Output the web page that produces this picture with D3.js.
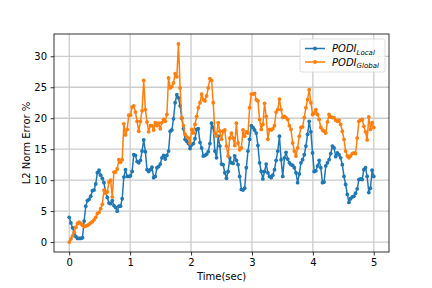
<!DOCTYPE html>
<html>
<head>
<meta charset="utf-8">
<script src="https://cdn.jsdelivr.net/npm/d3@7"></script>
<style>
  body { margin: 0; background: #fff; }
  svg { display: block; font-family: "DejaVu Sans", sans-serif; }
</style>
</head>
<body>
<div id="chart"></div>
<script>
// PODI_Local (blue), evenly spaced over 0..5 sec
const localErr = [
  4.0, 3.1, 2.3, 1.5, 0.9, 0.6, 0.6, 0.6, 0.7, 3.4, 5.8, 6.7, 6.9, 7.4, 8.3, 8.4, 9.4, 11.2, 11.6, 10.8,
  10.3, 9.6, 8.0, 7.2, 6.3, 6.2, 6.7, 5.9, 5.6, 5.0, 5.8, 5.8, 7.0, 10.5, 11.7, 10.6, 10.6, 10.7, 11.4, 14.1,
  14.0, 13.0, 12.8, 13.2, 14.7, 16.5, 14.6, 11.7, 11.4, 11.7, 12.1, 10.4, 10.6, 12.0, 12.2, 12.6, 13.6, 14.0, 13.4, 14.0,
  14.7, 17.9, 18.1, 19.9, 22.5, 23.8, 23.3, 22.0, 20.0, 18.3, 16.6, 16.3, 15.9, 15.1, 15.7, 15.9, 16.7, 18.2, 18.3, 16.1,
  15.2, 13.9, 14.0, 14.2, 14.6, 15.9, 19.2, 18.5, 14.7, 13.6, 17.1, 15.5, 12.6, 12.5, 11.2, 10.3, 11.4, 13.6, 12.8, 12.7,
  13.9, 13.2, 12.5, 10.6, 8.5, 8.4, 8.7, 12.0, 14.7, 16.6, 18.8, 18.5, 18.1, 17.6, 15.6, 12.8, 11.4, 10.2, 11.4, 12.6,
  11.2, 10.6, 10.4, 10.8, 11.7, 13.2, 14.7, 17.1, 13.3, 10.6, 13.6, 14.5, 13.4, 12.8, 12.5, 12.4, 12.0, 11.2, 9.6, 11.0,
  12.8, 13.3, 14.1, 15.5, 17.4, 19.5, 17.8, 14.4, 11.4, 11.5, 12.3, 13.2, 12.0, 9.6, 9.7, 12.3, 12.8, 13.3, 14.3, 15.5,
  15.2, 13.8, 14.4, 14.1, 13.6, 12.5, 10.6, 9.3, 7.7, 6.4, 7.0, 7.3, 7.4, 7.9, 8.6, 10.1, 10.2, 10.1, 11.7, 12.0,
  10.6, 8.0, 8.7, 11.6, 10.6
];

// PODI_Global (orange)
const globalErr = [
  0.0, 0.5, 1.0, 1.6, 2.4, 3.0, 3.2, 3.0, 2.7, 2.5, 2.6, 2.7, 2.9, 3.1, 3.3, 3.6, 4.0, 4.6, 4.8, 5.4,
  6.1, 8.4, 7.9, 8.1, 9.7, 10.0, 7.3, 11.3, 11.3, 11.8, 13.3, 12.9, 13.3, 19.1, 17.3, 18.2, 20.5, 20.5, 21.8, 22.0,
  21.0, 19.5, 17.9, 19.5, 21.2, 26.1, 21.4, 19.4, 17.8, 18.8, 18.8, 18.1, 19.3, 18.8, 19.2, 18.3, 19.3, 19.8, 19.5, 20.6,
  26.5, 24.9, 25.1, 25.7, 27.2, 26.7, 32.0, 24.9, 20.1, 18.8, 17.4, 17.0, 16.8, 16.0, 18.2, 17.6, 19.0, 20.3, 21.7, 22.5,
  23.9, 23.0, 22.8, 23.6, 24.9, 26.4, 26.1, 22.5, 17.6, 17.1, 19.3, 17.9, 16.6, 17.9, 18.1, 15.5, 13.9, 16.8, 17.6, 16.8,
  15.6, 19.2, 16.0, 14.9, 15.2, 18.1, 17.1, 17.8, 17.6, 21.7, 23.9, 23.9, 24.0, 23.0, 22.8, 19.8, 18.2, 19.0, 22.4, 20.3,
  16.6, 18.2, 18.1, 18.3, 18.8, 21.0, 21.4, 23.1, 21.4, 20.1, 20.3, 20.1, 19.8, 18.8, 18.2, 16.0, 14.7, 13.9, 15.2, 17.1,
  18.5, 18.6, 20.1, 21.7, 23.0, 24.6, 22.5, 20.6, 20.8, 21.4, 20.6, 19.8, 18.5, 18.1, 17.9, 17.6, 19.4, 20.6, 20.2, 20.1,
  20.1, 19.7, 19.5, 19.7, 19.0, 17.9, 16.6, 14.7, 13.9, 13.6, 13.9, 14.3, 14.4, 14.3, 16.8, 19.5, 19.7, 19.8, 18.7, 17.8,
  16.5, 20.2, 18.2, 19.3, 18.5
];

const tMax = 5;
const xTicks = [0, 1, 2, 3, 4, 5];
const yTicks = [0, 5, 10, 15, 20, 25, 30];

const series = [
  { name: 'PODI', sub: 'Local', color: '#1f77b4', values: localErr },
  { name: 'PODI', sub: 'Global', color: '#ff7f0e', values: globalErr }
];

const width = 432, height = 288;
const margin = { top: 34, right: 43, bottom: 36, left: 54 };
const iw = width - margin.left - margin.right;
const ih = height - margin.top - margin.bottom;

const svg = d3.select('#chart').append('svg')
  .attr('width', width)
  .attr('height', height);

const g = svg.append('g')
  .attr('transform', `translate(${margin.left},${margin.top})`);

// matplotlib style 5% padding
const xScale = d3.scaleLinear().domain([-0.25, 5.25]).range([0, iw]);
const yScale = d3.scaleLinear().domain([-1.6, 33.6]).range([ih, 0]);

// grid
g.append('g')
  .selectAll('line')
  .data(xTicks)
  .enter().append('line')
  .attr('x1', d => xScale(d)).attr('x2', d => xScale(d))
  .attr('y1', 0).attr('y2', ih)
  .attr('stroke', '#cccccc').attr('stroke-width', 1.3);
g.append('g')
  .selectAll('line')
  .data(yTicks)
  .enter().append('line')
  .attr('y1', d => yScale(d)).attr('y2', d => yScale(d))
  .attr('x1', 0).attr('x2', iw)
  .attr('stroke', '#cccccc').attr('stroke-width', 1.3);

// axes
const xAxis = d3.axisBottom(xScale).tickValues(xTicks).tickSize(3.5).tickPadding(3.5).tickFormat(d3.format('d'));
const yAxis = d3.axisLeft(yScale).tickValues(yTicks).tickSize(3.5).tickPadding(3.5).tickFormat(d3.format('d'));

const gx = g.append('g')
  .attr('transform', `translate(0,${ih})`)
  .call(xAxis);
const gy = g.append('g')
  .call(yAxis);

[gx, gy].forEach(a => {
  a.select('.domain').remove();
  a.selectAll('line').attr('stroke', '#000').attr('stroke-width', 0.8);
  a.selectAll('text')
    .attr('fill', '#000')
    .style('font-size', '10px')
    .style('font-family', '"DejaVu Sans", sans-serif');
});

// lines
const line = d3.line()
  .x((d, i, arr) => xScale(i * tMax / (arr.length - 1)))
  .y(d => yScale(d));

series.forEach(s => {
  const n = s.values.length;
  g.append('path')
    .datum(s.values)
    .attr('fill', 'none')
    .attr('stroke', s.color)
    .attr('stroke-width', 1.5)
    .attr('stroke-linejoin', 'round')
    .attr('d', line);

  g.append('g')
    .selectAll('circle')
    .data(s.values)
    .enter().append('circle')
    .attr('cx', (d, i) => xScale(i * tMax / (n - 1)))
    .attr('cy', d => yScale(d))
    .attr('r', 1.9)
    .attr('fill', s.color);
});

// frame
g.append('rect')
  .attr('x', 0).attr('y', 0)
  .attr('width', iw).attr('height', ih)
  .attr('fill', 'none')
  .attr('stroke', '#000')
  .attr('stroke-width', 0.8);

// axis labels
svg.append('text')
  .text('Time(sec)')
  .attr('x', margin.left + iw / 2)
  .attr('y', 280)
  .attr('text-anchor', 'middle')
  .style('font-size', '10px');

svg.append('text')
  .text('L2 Norm Error %')
  .attr('transform', `translate(30,${margin.top + ih / 2}) rotate(-90)`)
  .attr('text-anchor', 'middle')
  .style('font-size', '10px');

// legend
const legend = g.append('g')
  .attr('transform', `translate(${iw - 89},5)`);

legend.append('rect')
  .attr('x', 0).attr('y', 0)
  .attr('width', 85).attr('height', 33)
  .attr('rx', 2)
  .attr('fill', '#fff').attr('fill-opacity', 0.8)
  .attr('stroke', '#d6d6d6').attr('stroke-width', 0.8);

series.forEach((s, i) => {
  const y = 9.5 + i * 13.5;
  legend.append('line')
    .attr('x1', 5).attr('x2', 25)
    .attr('y1', y).attr('y2', y)
    .attr('stroke', s.color).attr('stroke-width', 1.5);
  legend.append('circle')
    .attr('cx', 15).attr('cy', y).attr('r', 1.9)
    .attr('fill', s.color);
  const t = legend.append('text')
    .attr('x', 32).attr('y', y + 3.5)
    .style('font-size', '10px')
    .style('font-style', 'italic');
  t.append('tspan').text(s.name);
  t.append('tspan')
    .attr('dy', 2.5)
    .style('font-size', '7px')
    .text(s.sub);
});
</script>
</body>
</html>
